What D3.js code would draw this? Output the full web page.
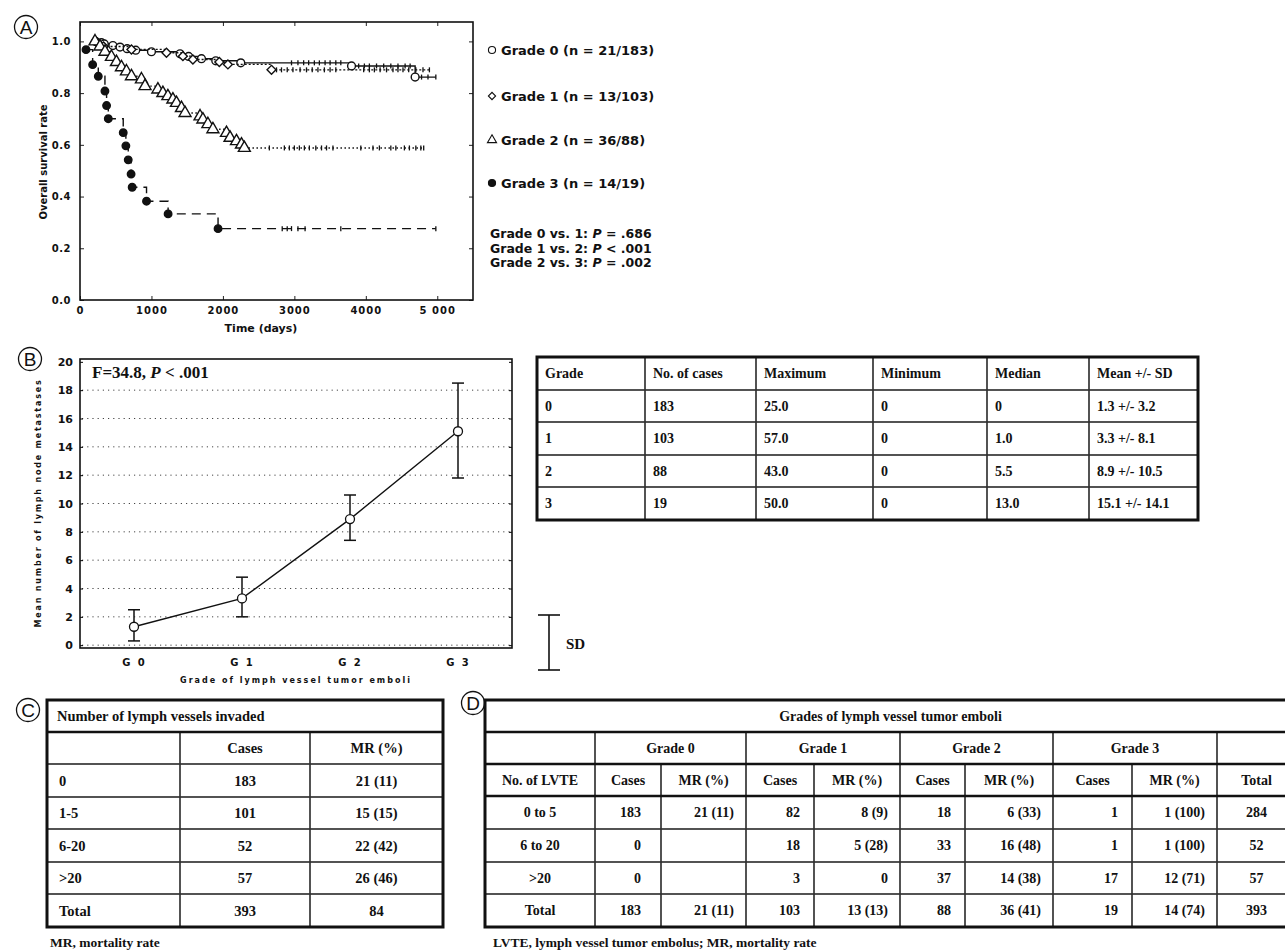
<!DOCTYPE html>
<html>
<head>
<meta charset="utf-8">
<script src="https://cdn.jsdelivr.net/npm/d3@7"></script>
<style>
body { margin: 0; background: #fff; }
svg text { font-family: "DejaVu Sans", "Liberation Sans", Arial, sans-serif; fill: #111; }
.serif { font-family: "Liberation Serif", "Times New Roman", serif !important; font-weight: bold; }
</style>
</head>
<body>
<svg id="fig" width="1285" height="952"></svg>
<script>
// ---------- panel A: survival ----------
const survGrades = ["Grade 0", "Grade 1", "Grade 2", "Grade 3"]
const survCounts = ["21/183", "13/103", "36/88", "14/19"]
const timeTicks = [0, 1000, 2000, 3000, 4000, 5000]
const timeTickLabels = ["0", "1000", "2000", "3000", "4000", "5 000"]
const survTicks = [0, 0.2, 0.4, 0.6, 0.8, 1.0]

// [time, survival after event]
const grade0Steps = [[220, 1.0], [300, 0.995], [340, 0.99], [460, 0.984], [560, 0.978], [660, 0.972], [780, 0.966],
  [1000, 0.96], [1400, 0.952], [1520, 0.942], [1700, 0.933], [1900, 0.925], [2250, 0.917], [3800, 0.905], [4690, 0.862]]
const grade1Steps = [[220, 1.0], [260, 0.99], [330, 0.98], [720, 0.969], [1210, 0.956], [1440, 0.943], [1580, 0.93],
  [1950, 0.92], [2070, 0.911], [2680, 0.89]]
const grade2Steps = [[210, 1.0], [280, 0.98], [350, 0.96], [440, 0.94], [510, 0.92], [580, 0.9], [650, 0.884], [720, 0.865],
  [860, 0.853], [910, 0.827], [1090, 0.814], [1160, 0.8], [1230, 0.788], [1300, 0.775], [1350, 0.762], [1420, 0.742],
  [1470, 0.723], [1680, 0.71], [1720, 0.698], [1790, 0.68], [1860, 0.66], [2050, 0.646], [2100, 0.627], [2190, 0.614],
  [2260, 0.601], [2300, 0.588]]
const grade3Steps = [[84, 0.968], [177, 0.91], [256, 0.865], [349, 0.808], [372, 0.752], [396, 0.701], [605, 0.647],
  [642, 0.596], [675, 0.542], [715, 0.487], [730, 0.436], [931, 0.382], [1233, 0.333], [1932, 0.276]]
const lastFollowUp = [4980, 4890, 4810, 4980]

const grade0Censor = [2960, 3050, 3130, 3200, 3280, 3350, 3430, 3500, 3580, 3650, 3900, 3980, 4050, 4150, 4250, 4350, 4450, 4550, 4620, 4780, 4870]
const grade1Censor = [2750, 2820, 2900, 2980, 3080, 3170, 3250, 3330, 3420, 3500, 3580, 3970, 4050, 4120, 4200, 4290, 4380, 4450, 4520, 4600, 4700, 4800]
const grade2Censor = [2650, 2860, 2930, 3000, 3070, 3140, 3210, 3300, 3380, 3450, 3540, 3930, 4100, 4190, 4350, 4420, 4540, 4610, 4700, 4770]
const grade3Censor = [2830, 2900, 2960, 3050, 3150, 3650]

const pairLabels = ["Grade 0 vs. 1: ", "Grade 1 vs. 2: ", "Grade 2 vs. 3: "]
const pairOps = [" = ", " < ", " = "]
const pairValues = [".686", ".001", ".002"]

// ---------- panel B: lymph node metastases ----------
const gradeCats = ["G 0", "G 1", "G 2", "G 3"]
const lnMean = [1.3, 3.3, 8.9, 15.1]
const lnErrLow = [0.3, 2.0, 7.4, 11.8]
const lnErrHigh = [2.5, 4.8, 10.6, 18.5]
const lnTicks = [0, 2, 4, 6, 8, 10, 12, 14, 16, 18, 20]

const tableBHeader = ["Grade", "No. of cases", "Maximum", "Minimum", "Median", "Mean +/- SD"]
const gradeNums = ["0", "1", "2", "3"]
const caseCounts = [183, 103, 88, 19]
const lnMax = [25.0, 57.0, 43.0, 50.0]
const lnMin = [0, 0, 0, 0]
const lnMedian = [0, 1.0, 5.5, 13.0]
const lnSd = [3.2, 8.1, 10.5, 14.1]

// ---------- panel C ----------
const lvCategories = ["0", "1-5", "6-20", ">20", "Total"]
const lvCases = [183, 101, 52, 57, 393]
const lvDeaths = [21, 15, 22, 26, 84]
const lvRate = [11, 15, 42, 46, null]

// ---------- panel D ----------
const lvteRows = ["0 to 5", "6 to 20", ">20", "Total"]
const lvteGrades = ["Grade 0", "Grade 1", "Grade 2", "Grade 3"]
const lvteCases = [[183, 0, 0, 183], [82, 18, 3, 103], [18, 33, 37, 88], [1, 1, 17, 19]]
const lvteDeaths = [[21, null, null, 21], [8, 5, 0, 13], [6, 16, 14, 36], [1, 1, 12, 14]]
const lvteRate = [[11, null, null, 11], [9, 28, null, 13], [33, 48, 38, 41], [100, 100, 71, 74]]
const lvteTotals = [284, 52, 57, 393]

const svg = d3.select("#fig")

// circled panel letters
const letters = [{l: "A", x: 26, y: 27}, {l: "B", x: 30, y: 359}, {l: "C", x: 28, y: 710}, {l: "D", x: 473, y: 703}]
const lg = svg.selectAll("g.letter").data(letters).join("g")
  .attr("transform", d => `translate(${d.x},${d.y})`)
lg.append("circle").attr("r", 11.5).attr("fill", "none").attr("stroke", "#111").attr("stroke-width", 1.3)
lg.append("text").attr("text-anchor", "middle").attr("y", 7)
  .style("font-family", "Liberation Sans, Arial, sans-serif").style("font-size", "19px").text(d => d.l)

// ================= PANEL A =================
const xA = d3.scaleLinear().domain([0, 5500]).range([80, 473])
const yA = d3.scaleLinear().domain([0, 1.075]).range([300, 22])
const gA = svg.append("g")

const axA = gA.append("g").attr("transform", "translate(0,300)")
  .call(d3.axisBottom(xA).tickValues(timeTicks).tickFormat((d, i) => timeTickLabels[i]).tickSize(-4).tickPadding(7))
axA.selectAll("text").style("font-size", "10px").style("font-weight", "bold").style("letter-spacing", "1px")
const ayA = gA.append("g").attr("transform", "translate(80,0)")
  .call(d3.axisLeft(yA).tickValues(survTicks).tickFormat(d3.format(".1f")).tickSize(-4).tickPadding(9))
ayA.selectAll("text").style("font-size", "10px").style("font-weight", "bold").style("letter-spacing", "0.5px")
gA.append("g").attr("transform", "translate(0,22)")
  .call(d3.axisTop(xA).tickValues(timeTicks).tickFormat("").tickSize(-4))
gA.append("g").attr("transform", "translate(473,0)")
  .call(d3.axisRight(yA).tickValues(survTicks).tickFormat("").tickSize(-4))
gA.selectAll(".domain").remove()
gA.selectAll(".tick line").attr("stroke", "#222")
gA.append("rect").attr("x", 80).attr("y", 22).attr("width", 393).attr("height", 278)
  .attr("fill", "none").attr("stroke", "#111").attr("stroke-width", 1.6)

gA.append("text").attr("x", 261).attr("y", 332).attr("text-anchor", "middle")
  .style("font-size", "11px").style("font-weight", "bold").text("Time (days)")
gA.append("text").attr("transform", "translate(47,162) rotate(-90)").attr("text-anchor", "middle")
  .style("font-size", "10px").style("font-weight", "bold").text("Overall survival rate")

// diamonds are drawn as squares turned 45 degrees
const survSeries = [
  {steps: grade0Steps, censor: grade0Censor, end: lastFollowUp[0], dash: null, sym: d3.symbolCircle, size: 48, fill: "#fff", rot: 0},
  {steps: grade1Steps, censor: grade1Censor, end: lastFollowUp[1], dash: "2,2", sym: d3.symbolSquare, size: 40, fill: "#fff", rot: 45},
  {steps: grade2Steps, censor: grade2Censor, end: lastFollowUp[2], dash: "1.5,2.5", sym: d3.symbolTriangle, size: 62, fill: "#fff", rot: 0},
  {steps: grade3Steps, censor: grade3Censor, end: lastFollowUp[3], dash: "9,6", sym: d3.symbolCircle, size: 44, fill: "#111", rot: 0}
]
const legendSizes = [40, 26, 36, 40]
const survAt = (steps, t) => {
  let s = steps[0][1]
  steps.forEach(p => { if (p[0] <= t) s = p[1] })
  return s
}
const stepLine = d3.line().x(d => xA(d[0])).y(d => yA(d[1])).curve(d3.curveStepAfter)

survSeries.forEach(sr => {
  const pts = sr.steps.concat([[sr.end, sr.steps[sr.steps.length - 1][1]]])
  gA.append("path").datum(pts).attr("d", stepLine)
    .attr("fill", "none").attr("stroke", "#111").attr("stroke-width", 1.4)
    .attr("stroke-dasharray", sr.dash)
  gA.selectAll(null).data(sr.censor.concat([sr.end])).join("line")
    .attr("x1", d => xA(d)).attr("x2", d => xA(d))
    .attr("y1", d => yA(survAt(sr.steps, d)) - 2.5).attr("y2", d => yA(survAt(sr.steps, d)) + 2.5)
    .attr("stroke", "#111").attr("stroke-width", 1.3)
  gA.selectAll(null).data(sr.steps).join("path")
    .attr("transform", d => `translate(${xA(d[0])},${yA(d[1])}) rotate(${sr.rot})`)
    .attr("d", d3.symbol().type(sr.sym).size(sr.size))
    .attr("fill", sr.fill).attr("stroke", "#111").attr("stroke-width", 1.4)
})

// legend
const legA = gA.selectAll("g.leg").data(survSeries).join("g")
  .attr("transform", (d, i) => `translate(492,${[50, 96, 140, 183][i]})`)
legA.append("path").attr("d", (d, i) => d3.symbol().type(d.sym).size(legendSizes[i])())
  .attr("transform", d => `rotate(${d.rot})`)
  .attr("fill", d => d.fill).attr("stroke", "#111").attr("stroke-width", 1.1)
legA.append("text").attr("x", 9).attr("y", 5).style("font-size", "13px").style("font-weight", "bold")
  .text((d, i) => `${survGrades[i]} (n = ${survCounts[i]})`)

const pTxt = gA.selectAll("text.pv").data(pairLabels).join("text")
  .attr("x", 490).attr("y", (d, i) => 238 + i * 14.5)
  .style("font-size", "12.5px").style("font-weight", "bold")
pTxt.append("tspan").text(d => d)
pTxt.append("tspan").style("font-style", "italic").text("P")
pTxt.append("tspan").text((d, i) => pairOps[i] + pairValues[i])

// ================= PANEL B =================
const xB = d3.scalePoint().domain(gradeCats).range([80, 512]).padding(0.5)
const yB = d3.scaleLinear().domain([-0.2, 20.2]).range([648, 359])
const gB = svg.append("g")

gB.selectAll("line.grid").data(lnTicks.filter(d => d < 20)).join("line")
  .attr("x1", 82).attr("x2", 510).attr("y1", d => yB(d)).attr("y2", d => yB(d))
  .attr("stroke", "#444").attr("stroke-width", 1).attr("stroke-dasharray", "1.2,4")

const ayB = gB.append("g").attr("transform", "translate(80,0)")
  .call(d3.axisLeft(yB).tickValues(lnTicks).tickSize(0).tickPadding(7))
ayB.selectAll("text").style("font-size", "11px").style("font-weight", "bold")
const axB = gB.append("g").attr("transform", "translate(0,648)")
  .call(d3.axisBottom(xB).tickSize(0).tickPadding(11))
axB.selectAll("text").style("font-size", "10px").style("font-weight", "bold").style("letter-spacing", "2px")
gB.append("g").attr("transform", "translate(512,0)")
  .call(d3.axisRight(yB).tickValues(lnTicks).tickFormat("").tickSize(-3))
gB.append("g").attr("transform", "translate(80,0)")
  .call(d3.axisLeft(yB).tickValues(lnTicks).tickFormat("").tickSize(-3))
gB.selectAll(".domain").remove()
gB.append("rect").attr("x", 80).attr("y", 359).attr("width", 432).attr("height", 289)
  .attr("fill", "none").attr("stroke", "#111").attr("stroke-width", 1.6)

gB.append("text").attr("x", 296).attr("y", 683).attr("text-anchor", "middle")
  .style("font-size", "8px").style("font-weight", "bold").style("letter-spacing", "2px")
  .text("Grade of lymph vessel tumor emboli")
gB.append("text").attr("transform", "translate(41,503) rotate(-90)").attr("text-anchor", "middle")
  .style("font-size", "8px").style("font-weight", "bold").style("letter-spacing", "1.8px")
  .text("Mean number of lymph node metastases")

const fTxt = gB.append("text").attr("class", "serif").attr("x", 92).attr("y", 378).style("font-size", "17px")
fTxt.append("tspan").text("F=34.8, ")
fTxt.append("tspan").style("font-style", "italic").text("P")
fTxt.append("tspan").text(" < .001")

gB.selectAll("g.err").data(gradeCats).join("g").each(function(c, i) {
  const g = d3.select(this)
  const x = xB(c)
  g.append("line").attr("x1", x).attr("x2", x).attr("y1", yB(lnErrLow[i])).attr("y2", yB(lnErrHigh[i]))
  g.append("line").attr("x1", x - 6).attr("x2", x + 6).attr("y1", yB(lnErrLow[i])).attr("y2", yB(lnErrLow[i]))
  g.append("line").attr("x1", x - 6).attr("x2", x + 6).attr("y1", yB(lnErrHigh[i])).attr("y2", yB(lnErrHigh[i]))
  g.selectAll("line").attr("stroke", "#111").attr("stroke-width", 1.5)
})
gB.append("path").datum(lnMean)
  .attr("d", d3.line().x((d, i) => xB(gradeCats[i])).y(d => yB(d)))
  .attr("fill", "none").attr("stroke", "#111").attr("stroke-width", 1.4)
gB.selectAll("circle.mean").data(lnMean).join("circle")
  .attr("cx", (d, i) => xB(gradeCats[i])).attr("cy", d => yB(d)).attr("r", 4.5)
  .attr("fill", "#fff").attr("stroke", "#111").attr("stroke-width", 1.3)

// SD key
const sdKey = gB.append("g").attr("stroke", "#111").attr("stroke-width", 1.6)
sdKey.append("line").attr("x1", 549).attr("x2", 549).attr("y1", 615).attr("y2", 670)
sdKey.append("line").attr("x1", 538).attr("x2", 560).attr("y1", 615).attr("y2", 615)
sdKey.append("line").attr("x1", 538).attr("x2", 560).attr("y1", 670).attr("y2", 670)
gB.append("text").attr("class", "serif").attr("x", 566).attr("y", 649).style("font-size", "15px").text("SD")

// ================= TABLES =================
const cell = (x0, x1, y0, y1, text, anchor, pad) => ({x0, x1, y0, y1, text, anchor: anchor || "middle", pad: pad || 0})
const mrText = (deaths, rate) => deaths == null ? "" : rate == null ? `${deaths}` : `${deaths} (${rate})`

const drawTable = function(g, cells, box, thickY, fontSize) {
  g.selectAll("rect.c").data(cells).join("rect")
    .attr("x", d => d.x0).attr("y", d => d.y0).attr("width", d => d.x1 - d.x0).attr("height", d => d.y1 - d.y0)
    .attr("fill", "none").attr("stroke", "#333").attr("stroke-width", 1.2)
  g.selectAll("text.c").data(cells.filter(d => d.text !== "")).join("text")
    .attr("class", "serif")
    .attr("x", d => d.anchor == "start" ? d.x0 + d.pad : d.anchor == "end" ? d.x1 - d.pad : (d.x0 + d.x1) / 2)
    .attr("y", d => (d.y0 + d.y1) / 2 + fontSize * 0.35)
    .attr("text-anchor", d => d.anchor)
    .style("font-size", fontSize + "px")
    .text(d => d.text)
  thickY.forEach(y => g.append("line").attr("x1", box[0]).attr("x2", box[1]).attr("y1", y).attr("y2", y)
    .attr("stroke", "#111").attr("stroke-width", 2.6))
  g.append("rect").attr("x", box[0]).attr("y", box[2]).attr("width", box[1] - box[0]).attr("height", box[3] - box[2])
    .attr("fill", "none").attr("stroke", "#111").attr("stroke-width", 3)
}

// table B
const colsB = [537, 645, 756, 873, 987, 1089, 1198]
const rowsB = [357, 390, 422, 455, 487, 520]
const cellsB = []
tableBHeader.forEach((h, c) => cellsB.push(cell(colsB[c], colsB[c + 1], rowsB[0], rowsB[1], h, "start", 8)))
gradeNums.forEach((gn, r) => {
  const vals = [gn, `${caseCounts[r]}`, lnMax[r].toFixed(1), `${lnMin[r]}`,
    lnMedian[r] === 0 ? "0" : lnMedian[r].toFixed(1), `${lnMean[r]} +/- ${lnSd[r]}`]
  vals.forEach((v, c) => cellsB.push(cell(colsB[c], colsB[c + 1], rowsB[r + 1], rowsB[r + 2], v, "start", 8)))
})
drawTable(svg.append("g"), cellsB, [colsB[0], colsB[6], rowsB[0], rowsB[5]], [], 14)

// table C
const colsC = [47, 180, 310, 443]
const rowsC = [700, 732, 764, 797, 829, 862, 894, 927]
const cellsC = [cell(colsC[0], colsC[3], rowsC[0], rowsC[1], "Number of lymph vessels invaded", "start", 10),
  cell(colsC[0], colsC[1], rowsC[1], rowsC[2], ""),
  cell(colsC[1], colsC[2], rowsC[1], rowsC[2], "Cases"),
  cell(colsC[2], colsC[3], rowsC[1], rowsC[2], "MR (%)")]
lvCategories.forEach((k, r) => {
  cellsC.push(cell(colsC[0], colsC[1], rowsC[r + 2], rowsC[r + 3], k, "start", 12))
  cellsC.push(cell(colsC[1], colsC[2], rowsC[r + 2], rowsC[r + 3], `${lvCases[r]}`))
  cellsC.push(cell(colsC[2], colsC[3], rowsC[r + 2], rowsC[r + 3], mrText(lvDeaths[r], lvRate[r])))
})
drawTable(svg.append("g"), cellsC, [colsC[0], colsC[3], rowsC[0], rowsC[7]], [rowsC[1]], 14.5)
svg.append("text").attr("class", "serif").attr("x", 50).attr("y", 947).style("font-size", "13.5px").text("MR, mortality rate")

// table D
const colsD = [485, 595, 661, 746, 814, 900, 965, 1053, 1132, 1217, 1296]
const rowsD = [700, 732, 764, 796, 829, 862, 894, 927]
const cellsD = [cell(colsD[0], colsD[10], rowsD[0], rowsD[1], "Grades of lymph vessel tumor emboli"),
  cell(colsD[0], colsD[1], rowsD[1], rowsD[2], ""),
  cell(colsD[9], colsD[10], rowsD[1], rowsD[2], ""),
  cell(colsD[0], colsD[1], rowsD[2], rowsD[3], "No. of LVTE"),
  cell(colsD[9], colsD[10], rowsD[2], rowsD[3], "Total")]
lvteGrades.forEach((gname, k) => {
  cellsD.push(cell(colsD[1 + 2 * k], colsD[3 + 2 * k], rowsD[1], rowsD[2], gname))
  cellsD.push(cell(colsD[1 + 2 * k], colsD[2 + 2 * k], rowsD[2], rowsD[3], "Cases"))
  cellsD.push(cell(colsD[2 + 2 * k], colsD[3 + 2 * k], rowsD[2], rowsD[3], "MR (%)"))
})
lvteRows.forEach((lab, r) => {
  const y0 = rowsD[r + 3], y1 = rowsD[r + 4]
  cellsD.push(cell(colsD[0], colsD[1], y0, y1, lab))
  lvteGrades.forEach((gname, k) => {
    cellsD.push(cell(colsD[1 + 2 * k], colsD[2 + 2 * k], y0, y1, `${lvteCases[k][r]}`, "end", k == 0 ? 20 : 14))
    cellsD.push(cell(colsD[2 + 2 * k], colsD[3 + 2 * k], y0, y1, mrText(lvteDeaths[k][r], lvteRate[k][r]), "end", 12))
  })
  cellsD.push(cell(colsD[9], colsD[10], y0, y1, `${lvteTotals[r]}`))
})
drawTable(svg.append("g"), cellsD, [colsD[0], colsD[10], rowsD[0], rowsD[7]], [rowsD[1], rowsD[2], rowsD[3]], 14)
svg.append("text").attr("class", "serif").attr("x", 493).attr("y", 947).style("font-size", "13.5px")
  .text("LVTE, lymph vessel tumor embolus; MR, mortality rate")
</script>
</body>
</html>
